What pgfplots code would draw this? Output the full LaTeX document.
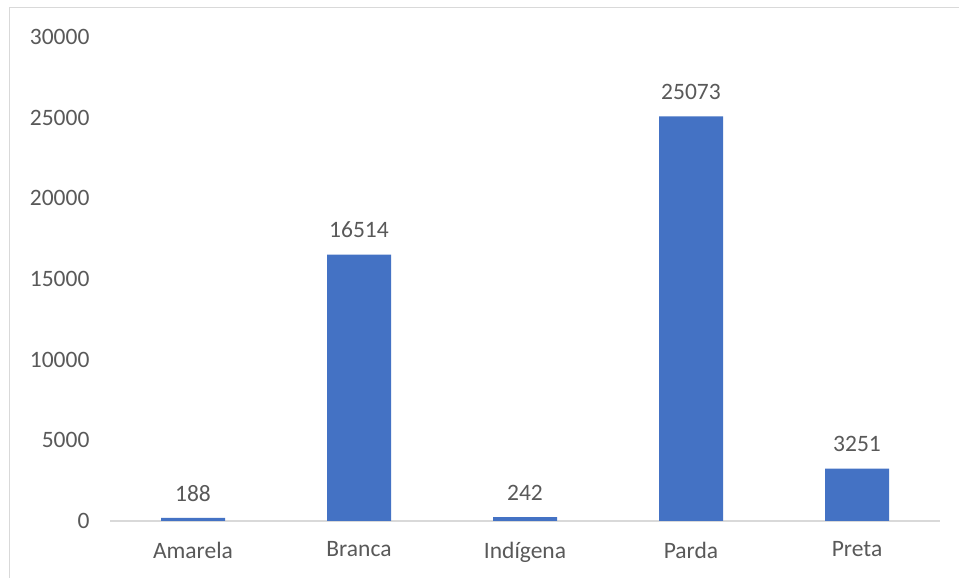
\documentclass[border=0pt]{standalone}
\usepackage{pgfplots}
\pgfplotsset{compat=1.18}
\usepackage{fontspec}
\setmainfont{Carlito}
\definecolor{barblue}{HTML}{4472C4}
\definecolor{txt}{HTML}{595959}
\definecolor{axgray}{HTML}{D9D9D9}
\begin{document}
\begin{tikzpicture}[x=1pt,y=1pt]
\useasboundingbox (0,0) rectangle (959,578);
\fill[white] (0,0) rectangle (959,578);
\draw[axgray,line width=1.5pt] (9.5,0) -- (9.5,570.5) -- (959,570.5);
\begin{axis}[
  at={(110pt,57pt)}, anchor=south west,
  scale only axis, width=830pt, height=484pt,
  xmin=-0.5, xmax=4.5, ymin=0, ymax=30000,
  axis x line*=bottom, axis y line*=left,
  y axis line style={draw=none},
  x axis line style={axgray, line width=1.2pt},
  ytick={0,5000,...,30000},
  ytick style={draw=none},
  scaled y ticks=false,
  yticklabel style={/pgf/number format/fixed,/pgf/number format/1000 sep={}, text=txt, font=\fontsize{23.5}{27}\selectfont, xshift=-17pt},
  /pgf/number format/assume math mode=true,
  xtick={0,1,2,3,4},
  xticklabels={Amarela,Branca,Indígena,Parda,Preta},
  xtick style={draw=none},
  xticklabel style={text=txt, font=\fontsize{23.5}{27}\selectfont, yshift=-13pt},
  extra x ticks={-0.5,0.5,1.5,2.5,3.5,4.5},
  extra x tick labels={},
  extra x tick style={major tick length=6pt, tick align=outside, tick style={axgray, line width=1.2pt, draw=axgray}},
  ybar, bar width=64pt,
  nodes near coords,
  nodes near coords style={text=txt, font=\fontsize{23.5}{27}\selectfont, /pgf/number format/1000 sep={}, anchor=south, yshift=13pt},
  clip=false,
]
\addplot[fill=barblue, draw=none] coordinates {(0,188) (1,16514) (2,242) (3,25073) (4,3251)};
\end{axis}
\end{tikzpicture}
\end{document}
